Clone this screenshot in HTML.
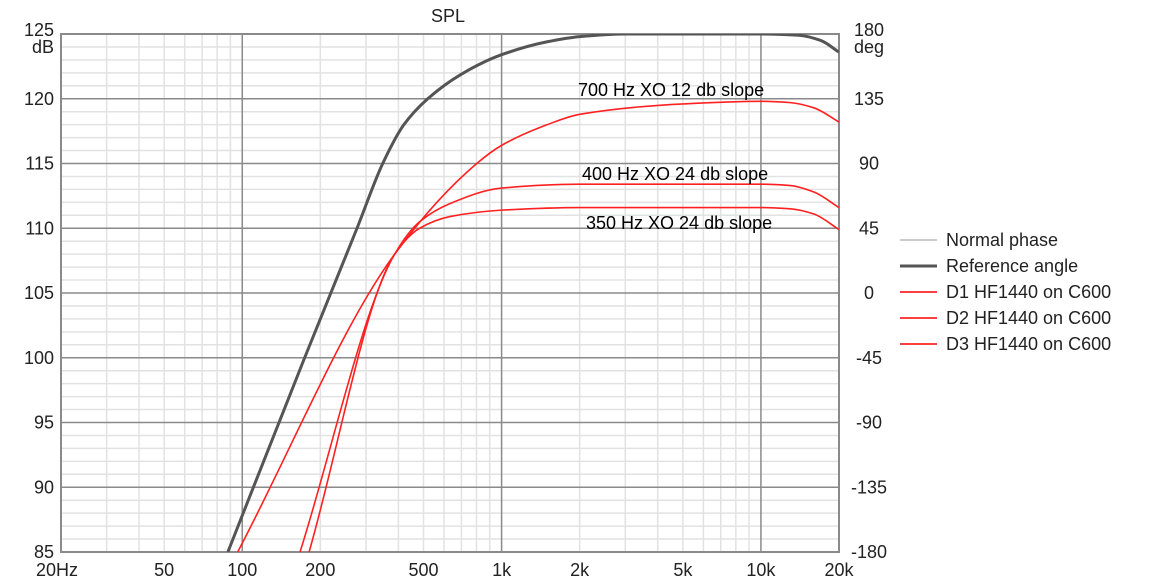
<!DOCTYPE html>
<html><head><meta charset="utf-8"><style>
html,body{margin:0;padding:0;background:#fff;}
svg{display:block;font-family:"Liberation Sans",sans-serif;}
</style></head><body>
<svg id="chart" width="1152" height="586" viewBox="0 0 1152 586" xmlns="http://www.w3.org/2000/svg">
<g id="grid"></g>
<g id="axes"></g>
<g id="series"></g>
<text x="448" y="22" font-size="18" fill="#222" text-anchor="middle">SPL</text>
<text x="54" y="53" font-size="18" fill="#222" text-anchor="end">dB</text>
<text x="869" y="53" font-size="18" fill="#222" text-anchor="middle">deg</text>
<g font-family="Liberation Sans, sans-serif" font-size="18" fill="#000">
<text x="578" y="96">700 Hz XO 12 db slope</text>
<text x="582" y="180">400 Hz XO 24 db slope</text>
<text x="586" y="229">350 Hz XO 24 db slope</text>
</g>
<g id="legend" font-size="18" fill="#222">
<g><line x1="900" y1="240" x2="937" y2="240" stroke="#999" stroke-width="1"/><text x="946" y="246">Normal phase</text></g>
<g><line x1="900" y1="266" x2="937" y2="266" stroke="#555" stroke-width="3"/><text x="946" y="272">Reference angle</text></g>
<g><line x1="900" y1="292" x2="937" y2="292" stroke="#f00" stroke-width="1.5"/><text x="946" y="298">D1 HF1440 on C600</text></g>
<g><line x1="900" y1="318" x2="937" y2="318" stroke="#f00" stroke-width="1.5"/><text x="946" y="324">D2 HF1440 on C600</text></g>
<g><line x1="900" y1="344" x2="937" y2="344" stroke="#f00" stroke-width="1.5"/><text x="946" y="350">D3 HF1440 on C600</text></g>
</g>
</svg>
<script>
const yTicks=[125,120,115,110,105,100,95,90,85];
const y2Ticks=["180","135","90","45","0","-45","-90","-135","-180"];
const xTickVals=[20,50,100,200,500,1000,2000,5000,10000,20000];
const xTickLabels=["20Hz","50","100","200","500","1k","2k","5k","10k","20k"];
const refFreq=[88,174,277,348,420,519,700,1000,1500,2000,3000,10000,14000,17000,20000];
const refDb=[85,100,110,115,118,120,121.9,123.4,124.4,124.8,125,125,124.9,124.5,123.6];
const d1Freq=[96,387,802,1000,1500,2000,5000,10000,13000,16000,20000];
const d1Db=[85,108,115,116.4,118,118.8,119.6,119.8,119.7,119.3,118.2];
const d2Freq=[167,387,483,632,1000,2000,10000,13000,16000,20000];
const d2Db=[85,108,110.5,111.9,113.1,113.4,113.4,113.3,112.8,111.6];
const d3Freq=[181,387,483,632,1000,2000,10000,13000,16000,20000];
const d3Db=[85,108,110,110.9,111.4,111.6,111.6,111.5,111.1,109.9];

const L=61,R=839,T=34,B=552;
const xs=f=>L+(Math.log10(f)-Math.log10(20))*(R-L)/Math.log10(1000);
const ys=d=>T+(125-d)*(B-T)/40;
const NS="http://www.w3.org/2000/svg";
function mk(tag,attrs,parent){const e=document.createElementNS(NS,tag);for(const k in attrs)e.setAttribute(k,attrs[k]);parent.appendChild(e);return e;}
const grid=document.getElementById('grid'),axes=document.getElementById('axes'),series=document.getElementById('series');
for(let d=85;d<=125;d++){if(d%5===0)continue;const l=mk('line',{x1:L,x2:R,y1:ys(d),y2:ys(d),stroke:'#e2e2e2','stroke-width':1.5},grid);

}
for(let dec=10;dec<=10000;dec*=10){for(let m=1;m<=9;m++){const f=dec*m;if(f<=20||f>=20000||m===1)continue;const l=mk('line',{x1:xs(f),x2:xs(f),y1:T,y2:B,stroke:'#e2e2e2','stroke-width':1.5},grid);

}}
yTicks.forEach(d=>{const l=mk('line',{x1:L,x2:R,y1:ys(d),y2:ys(d),stroke:'#8a8a8a','stroke-width':1.5},grid);

});
[100,1000,10000].forEach(f=>{const l=mk('line',{x1:xs(f),x2:xs(f),y1:T,y2:B,stroke:'#8a8a8a','stroke-width':1.5},grid);

});
const fr=mk('rect',{x:L,y:T,width:R-L,height:B-T,fill:'none',stroke:'#8a8a8a','stroke-width':2},grid);


yTicks.forEach((d,i)=>{const t=mk('text',{x:54,y:ys(d)+(i===0?2:6),'font-size':18,fill:'#222','text-anchor':'end'},axes);t.textContent=d;


const t2=mk('text',{x:869,y:ys(d)+(i===0?2:6),'font-size':18,fill:'#222','text-anchor':'middle'},axes);t2.textContent=y2Ticks[i];

});
xTickVals.forEach((f,i)=>{let a='middle',x=xs(f);if(i===0){a='start';x=36;}
const t=mk('text',{x:x,y:576,'font-size':18,fill:'#222','text-anchor':a},axes);t.textContent=xTickLabels[i];

});
// monotone cubic (Fritsch-Carlson) in pixel space
function pathFor(fa,da){const x=fa.map(xs),y=da.map(ys),n=x.length;
const dl=[],m=new Array(n);for(let i=0;i<n-1;i++)dl.push((y[i+1]-y[i])/(x[i+1]-x[i]));
m[0]=dl[0];m[n-1]=dl[n-2];
for(let i=1;i<n-1;i++){if(dl[i-1]*dl[i]<=0)m[i]=0;else{const w1=2*(x[i+1]-x[i])+(x[i]-x[i-1]),w2=(x[i+1]-x[i])+2*(x[i]-x[i-1]);m[i]=(w1+w2)/(w1/dl[i-1]+w2/dl[i]);}}
let s='M'+x[0]+','+y[0];
for(let i=0;i<n-1;i++){const h=x[i+1]-x[i];s+=' C'+(x[i]+h/3)+','+(y[i]+m[i]*h/3)+' '+(x[i+1]-h/3)+','+(y[i+1]-m[i+1]*h/3)+' '+x[i+1]+','+y[i+1];}
return s;}
const clip=mk('clipPath',{id:'pc'},document.getElementById('chart'));mk('rect',{x:L,y:T,width:R-L,height:B-T},clip);
series.setAttribute('clip-path','url(#pc)');
const g=mk('path',{d:pathFor(refFreq,refDb),fill:'none',stroke:'#555','stroke-width':3},series);


[[d1Freq,d1Db,'d1-curve'],[d2Freq,d2Db,'d2-curve'],[d3Freq,d3Db,'d3-curve']].forEach(s=>{
const p=mk('path',{d:pathFor(s[0],s[1]),fill:'none',stroke:'#ff2020','stroke-width':1.6},series);

});
</script>
</body></html>
